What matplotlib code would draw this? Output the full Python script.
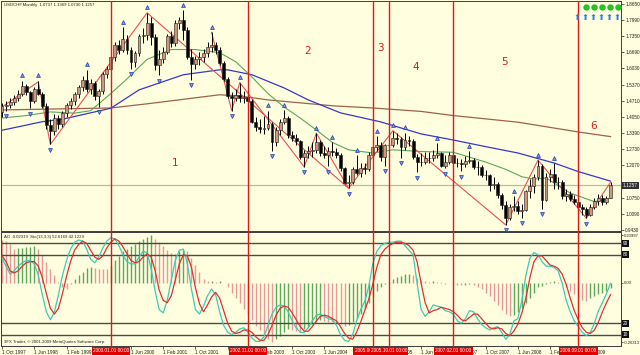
import matplotlib
matplotlib.use("Agg")
import matplotlib.pyplot as plt
import matplotlib.transforms as mtransforms
from matplotlib import font_manager
import numpy as np

# narrow font if present, the MT4 screenshot text is very condensed
installed = {f.name for f in font_manager.fontManager.ttflist}
if 'Liberation Sans Narrow' in installed:
    plt.rcParams['font.family'] = ['Liberation Sans Narrow', 'DejaVu Sans']
    FS, FS_HEAD, FS_IND = 4.0, 3.6, 3.5
else:
    plt.rcParams['font.family'] = ['Liberation Sans', 'DejaVu Sans']
    FS, FS_HEAD, FS_IND = 3.4, 3.1, 3.0

# --- monthly USDCHF candles, Oct 1997 .. May 2010 ---
open_ = [1.425, 1.448, 1.455, 1.466, 1.480, 1.500, 1.530, 1.505, 1.470, 1.520,
         1.500, 1.450, 1.370, 1.345, 1.400, 1.375, 1.420, 1.455, 1.470, 1.500,
         1.525, 1.555, 1.520, 1.545, 1.490, 1.510, 1.580, 1.600, 1.650, 1.700,
         1.680, 1.725, 1.680, 1.630, 1.665, 1.735, 1.740, 1.790, 1.730, 1.615,
         1.640, 1.670, 1.735, 1.705, 1.790, 1.800, 1.760, 1.650, 1.620, 1.640,
         1.650, 1.665, 1.690, 1.700, 1.680, 1.625, 1.560, 1.490, 1.480, 1.495,
         1.480, 1.485, 1.470, 1.385, 1.365, 1.355, 1.360, 1.375, 1.300, 1.350,
         1.385, 1.400, 1.330, 1.320, 1.305, 1.240, 1.255, 1.265, 1.270, 1.300,
         1.255, 1.250, 1.265, 1.260, 1.250, 1.195, 1.135, 1.140, 1.190, 1.175,
         1.195, 1.190, 1.250, 1.280, 1.290, 1.240, 1.290, 1.290, 1.318, 1.315,
         1.280, 1.310, 1.305, 1.240, 1.220, 1.222, 1.235, 1.238, 1.250, 1.255,
         1.205, 1.220, 1.250, 1.215, 1.215, 1.210, 1.225, 1.230, 1.200, 1.200,
         1.165, 1.165, 1.125, 1.130, 1.085, 1.045, 0.990, 1.035, 1.040, 1.020,
         1.025, 1.100, 1.120, 1.160, 1.205, 1.065, 1.160, 1.170, 1.140, 1.140,
         1.080, 1.088, 1.070, 1.058, 1.035, 1.030, 1.005, 1.035, 1.060, 1.075,
         1.055, 1.0737]
high = [1.462, 1.470, 1.482, 1.495, 1.515, 1.552, 1.538, 1.512, 1.528, 1.552,
        1.508, 1.462, 1.395, 1.415, 1.412, 1.430, 1.462, 1.480, 1.508, 1.535,
        1.570, 1.598, 1.560, 1.552, 1.520, 1.590, 1.612, 1.662, 1.712, 1.720,
        1.772, 1.740, 1.690, 1.675, 1.745, 1.768, 1.830, 1.812, 1.742, 1.680,
        1.690, 1.745, 1.755, 1.800, 1.815, 1.842, 1.772, 1.682, 1.655, 1.668,
        1.682, 1.712, 1.750, 1.712, 1.690, 1.635, 1.568, 1.505, 1.520, 1.545,
        1.512, 1.505, 1.478, 1.405, 1.395, 1.410, 1.430, 1.385, 1.362, 1.395,
        1.432, 1.410, 1.345, 1.335, 1.310, 1.268, 1.285, 1.300, 1.338, 1.312,
        1.285, 1.280, 1.302, 1.278, 1.258, 1.200, 1.168, 1.198, 1.248, 1.215,
        1.218, 1.260, 1.292, 1.326, 1.302, 1.295, 1.312, 1.348, 1.340, 1.322,
        1.340, 1.325, 1.315, 1.252, 1.255, 1.262, 1.262, 1.268, 1.296, 1.262,
        1.250, 1.262, 1.258, 1.238, 1.232, 1.245, 1.265, 1.238, 1.225, 1.208,
        1.188, 1.170, 1.158, 1.140, 1.095, 1.060, 1.050, 1.081, 1.060, 1.050,
        1.105, 1.150, 1.170, 1.228, 1.212, 1.175, 1.192, 1.215, 1.158, 1.148,
        1.110, 1.102, 1.085, 1.070, 1.050, 1.035, 1.048, 1.072, 1.088, 1.085,
        1.080, 1.1369]
low = [1.405, 1.430, 1.440, 1.452, 1.470, 1.490, 1.495, 1.440, 1.462, 1.495,
       1.440, 1.355, 1.292, 1.330, 1.355, 1.365, 1.405, 1.435, 1.455, 1.480,
       1.510, 1.505, 1.500, 1.475, 1.445, 1.500, 1.565, 1.585, 1.635, 1.660,
       1.670, 1.660, 1.600, 1.610, 1.655, 1.705, 1.720, 1.700, 1.598, 1.575,
       1.625, 1.660, 1.690, 1.695, 1.765, 1.720, 1.640, 1.555, 1.600, 1.618,
       1.628, 1.650, 1.670, 1.660, 1.615, 1.550, 1.480, 1.430, 1.470, 1.465,
       1.460, 1.455, 1.380, 1.345, 1.340, 1.335, 1.350, 1.265, 1.285, 1.330,
       1.375, 1.320, 1.305, 1.290, 1.232, 1.200, 1.235, 1.240, 1.258, 1.245,
       1.238, 1.202, 1.245, 1.235, 1.185, 1.130, 1.113, 1.132, 1.165, 1.160,
       1.170, 1.185, 1.240, 1.265, 1.225, 1.205, 1.270, 1.282, 1.295, 1.238,
       1.270, 1.285, 1.232, 1.178, 1.205, 1.210, 1.218, 1.225, 1.235, 1.200,
       1.195, 1.212, 1.205, 1.198, 1.182, 1.200, 1.215, 1.190, 1.168, 1.158,
       1.145, 1.100, 1.110, 1.075, 1.028, 0.963, 0.985, 1.018, 1.008, 0.992,
       1.020, 1.072, 1.095, 1.145, 1.030, 1.062, 1.140, 1.110, 1.110, 1.070,
       1.062, 1.060, 1.048, 1.025, 1.005, 0.990, 0.998, 1.028, 1.045, 1.045,
       1.050, 1.0730]
close = [1.448, 1.455, 1.466, 1.480, 1.500, 1.530, 1.505, 1.470, 1.520, 1.500,
         1.450, 1.370, 1.345, 1.400, 1.375, 1.420, 1.455, 1.470, 1.500, 1.525,
         1.555, 1.520, 1.545, 1.490, 1.510, 1.580, 1.600, 1.650, 1.700, 1.680,
         1.725, 1.680, 1.630, 1.665, 1.735, 1.740, 1.790, 1.730, 1.615, 1.640,
         1.670, 1.735, 1.705, 1.790, 1.800, 1.760, 1.650, 1.620, 1.640, 1.650,
         1.665, 1.690, 1.700, 1.680, 1.625, 1.560, 1.490, 1.480, 1.495, 1.480,
         1.485, 1.470, 1.385, 1.365, 1.355, 1.360, 1.375, 1.300, 1.350, 1.385,
         1.400, 1.330, 1.320, 1.305, 1.240, 1.255, 1.265, 1.270, 1.300, 1.255,
         1.250, 1.265, 1.260, 1.250, 1.195, 1.135, 1.140, 1.190, 1.175, 1.195,
         1.190, 1.250, 1.280, 1.290, 1.240, 1.290, 1.290, 1.318, 1.315, 1.280,
         1.310, 1.305, 1.240, 1.220, 1.222, 1.235, 1.238, 1.250, 1.255, 1.205,
         1.220, 1.250, 1.215, 1.215, 1.210, 1.225, 1.230, 1.200, 1.200, 1.165,
         1.165, 1.125, 1.130, 1.085, 1.045, 0.990, 1.035, 1.040, 1.020, 1.025,
         1.100, 1.120, 1.160, 1.205, 1.065, 1.160, 1.170, 1.140, 1.140, 1.080,
         1.088, 1.070, 1.058, 1.035, 1.030, 1.005, 1.035, 1.060, 1.075, 1.055,
         1.073, 1.1257]
last_price = 1.1257

# moving averages (vertices: bar index, price)
ma_green_x = [0, 6, 12, 18, 22, 27, 31, 36, 42, 48, 54, 58, 62, 66, 70, 74, 78, 82, 86,
              92, 97, 104, 112, 120, 125, 129, 132, 135, 141, 147, 151]
ma_green_y = [1.40, 1.41, 1.425, 1.42, 1.43, 1.50, 1.56, 1.64, 1.68, 1.68, 1.667, 1.63,
              1.568, 1.50, 1.445, 1.40, 1.351, 1.30, 1.27, 1.257, 1.27, 1.263, 1.26,
              1.22, 1.19, 1.16, 1.15, 1.155, 1.093, 1.058, 1.073]
ma_blue_x = [0, 10, 15, 27, 34, 45, 54, 56, 62, 70, 76, 84, 94, 104, 112, 120, 128,
             137, 143, 151]
ma_blue_y = [1.35, 1.385, 1.395, 1.44, 1.515, 1.577, 1.597, 1.597, 1.577, 1.523, 1.474,
             1.421, 1.384, 1.335, 1.31, 1.283, 1.257, 1.216, 1.181, 1.142]
ma_brown_x = [0, 27, 37, 54, 59, 66, 82, 92, 104, 112, 128, 143, 151]
ma_brown_y = [1.433, 1.441, 1.46, 1.495, 1.49, 1.474, 1.45, 1.441, 1.427, 1.41, 1.383,
              1.343, 1.324]

# zigzag swing points (bar index, price)
zz_big_x = [0, 9, 12, 36, 86, 97, 125, 133, 145, 151]
zz_big_y = [1.445, 1.548, 1.292, 1.830, 1.113, 1.348, 0.963, 1.228, 0.990, 1.1369]
zz_small_x = [52, 57, 59, 75, 78, 86]
zz_small_y = [1.750, 1.430, 1.545, 1.200, 1.338, 1.113]

# Bill Williams fractals
fractal_up = [5, 9, 21, 30, 36, 45, 52, 59, 66, 70, 78, 82, 88, 93, 97, 100, 108, 116,
              127, 133, 137]
fractal_dn = [1, 7, 12, 24, 32, 39, 47, 57, 67, 75, 81, 86, 95, 99, 103, 110, 114, 125,
              129, 134, 145]

# Awesome Oscillator
ao = [0.190, 0.182, 0.170, 0.150, 0.152, 0.155, 0.156, 0.158, 0.160, 0.150,
      0.122, 0.093, 0.060, 0.033, 0.002, -0.018, -0.026, -0.005, 0.014, 0.034,
      0.045, 0.063, 0.068, 0.066, 0.062, 0.061, 0.060, 0.075, 0.100, 0.120,
      0.138, 0.150, 0.160, 0.170, 0.182, 0.192, 0.202, 0.210, 0.195, 0.180,
      0.160, 0.145, 0.130, 0.128, 0.138, 0.145, 0.140, 0.110, 0.080, 0.045,
      0.015, 0.006, 0.008, 0.005, 0.008, -0.003, -0.020, -0.045, -0.070, -0.090,
      -0.115, -0.140, -0.165, -0.190, -0.210, -0.230, -0.250, -0.263, -0.250, -0.236,
      -0.220, -0.205, -0.208, -0.212, -0.215, -0.205, -0.195, -0.185, -0.172, -0.165,
      -0.168, -0.172, -0.176, -0.178, -0.182, -0.190, -0.188, -0.175, -0.160, -0.140,
      -0.115, -0.090, -0.060, -0.035, -0.020, -0.008, 0.005, 0.015, 0.025, 0.030,
      0.038, 0.040, 0.035, 0.020, 0.012, 0.006, 0.004, 0.006, 0.005, 0.002,
      -0.004, -0.003, -0.006, -0.010, -0.012, -0.010, -0.008, -0.012, -0.020, -0.030,
      -0.045, -0.060, -0.080, -0.100, -0.120, -0.140, -0.148, -0.145, -0.130, -0.110,
      -0.090, -0.070, -0.045, -0.020, -0.015, -0.008, 0.004, 0.006, 0.002, -0.010,
      -0.020, -0.035, -0.050, -0.065, -0.075, -0.080, -0.070, -0.060, -0.050, -0.045,
      -0.035, -0.023]

# Stochastic(13,3,3): %K (main) and %D (signal)
stoch_k = [77, 70, 63, 66, 70, 73, 75, 75, 72, 62, 45, 30, 23, 30, 45, 62, 75, 85, 91, 93,
           92, 85, 76, 73, 78, 86, 92, 95, 94, 88, 80, 74, 72, 72, 78, 83, 82, 68, 48, 32,
           29, 40, 58, 75, 84, 85, 72, 50, 32, 28, 35, 44, 50, 45, 30, 18, 12, 10, 12, 15,
           16, 12, 7, 4, 4, 8, 18, 28, 34, 36, 35, 30, 22, 16, 12, 12, 16, 22, 27, 28,
           26, 24, 23, 18, 10, 5, 4, 10, 22, 32, 39, 52, 72, 83, 88, 90, 91, 91, 92, 92,
           88, 84, 80, 55, 32, 26, 30, 36, 35, 34, 31, 30, 28, 22, 20, 24, 31, 30, 24, 19,
           16, 14, 16, 17, 12, 6, 10, 22, 24, 40, 62, 77, 82, 80, 74, 70, 70, 69, 66, 55,
           40, 30, 22, 17, 12, 9, 12, 20, 31, 38, 46, 55]
stoch_d = [79, 74, 66, 64, 66, 70, 73, 74, 74, 70, 60, 46, 33, 28, 33, 46, 61, 74, 84, 89,
           92, 90, 84, 78, 76, 79, 86, 91, 94, 92, 87, 81, 75, 73, 74, 78, 81, 78, 66, 49,
           40, 38, 44, 58, 72, 80, 79, 69, 51, 37, 30, 36, 43, 47, 42, 31, 20, 13, 11, 12,
           14, 14, 12, 8, 5, 5, 10, 18, 27, 33, 35, 34, 29, 23, 17, 13, 13, 17, 22, 26,
           27, 26, 24, 22, 17, 11, 7, 6, 12, 21, 31, 41, 54, 69, 80, 85, 88, 90, 91, 91,
           90, 88, 84, 74, 55, 38, 29, 31, 32, 34, 33, 32, 30, 27, 23, 22, 25, 28, 28, 24,
           20, 16, 15, 16, 15, 11, 9, 13, 19, 29, 42, 60, 74, 79, 79, 75, 71, 70, 68, 63,
           54, 42, 31, 23, 16, 12, 11, 14, 21, 30, 38, 45]
stoch_levels = [90, 80, 20, 10]

# vertical marker lines
vline_idx = [27, 61, 92, 96, 112, 143]
vline_labels = ["2000.01.01 00:00", "2002.11.01 00:00", "2005.06.01 00:00",
                "2005.10.01 00:00", "2007.02.01 00:00", "2009.09.01 00:00"]
wave_labels = ["1", "2", "3", "4", "5", "6"]
wave_x = [42.9, 75.7, 93.8, 102.7, 124.8, 146.9]
wave_y = [1.216, 1.675, 1.687, 1.609, 1.630, 1.368]

# axis labels
price_ticks = [1.8650, 1.7990, 1.7350, 1.6690, 1.6030, 1.5370, 1.4710, 1.4050, 1.3390,
               1.2730, 1.2070, 1.0750, 1.0090, 0.9430]
date_tick_idx = list(range(0, 152, 8))
date_tick_labels = ["1 Oct 1997", "1 Jun 1998", "1 Feb 1999", "1 Oct 1999", "1 Jun 2000",
                    "1 Feb 2001", "1 Oct 2001", "1 Jun 2002", "1 Feb 2003", "1 Oct 2003",
                    "1 Jun 2004", "1 Feb 2005", "1 Oct 2005", "1 Jun 2006", "1 Feb 2007",
                    "1 Oct 2007", "1 Jun 2008", "1 Feb 2009", "1 Oct 2009"]

BG = '#FFFFE0'
RED = '#E01818'

o = np.array(open_)
h = np.array(high)
l = np.array(low)
c = np.array(close)
idx = np.arange(len(c))

fig = plt.figure(figsize=(6.4, 3.55), dpi=100, facecolor=BG)
ax = fig.add_axes([0.0016, 0.349, 0.9687, 0.6494], facecolor=BG)
axi = fig.add_axes([0.0016, 0.0254, 0.9687, 0.3211], facecolor=BG)
xlim = (-0.25, 153.6)

# ---- price panel ----
ax.axhline(last_price, color='#B8B8B0', lw=0.9, zorder=1)
ax.plot(ma_brown_x, ma_brown_y, color='#A0604A', lw=0.9, zorder=2)
ax.plot(ma_blue_x, ma_blue_y, color='#3838C8', lw=0.9, zorder=2)
ax.plot(ma_green_x, ma_green_y, color='#58A858', lw=0.8, zorder=2)
ax.plot(zz_big_x, zz_big_y, color='#E85050', lw=0.8, zorder=2.5)
ax.plot(zz_small_x, zz_small_y, color='#E85050', lw=0.8, zorder=2.5)

bull = c >= o
ax.vlines(idx, l, h, color='#000000', lw=0.7, zorder=3)
ax.bar(idx, np.abs(c - o), bottom=np.minimum(o, c), width=0.72,
       color=np.where(bull, '#D09878', '#000000'), edgecolor='#1A1A1A',
       linewidth=0.4, zorder=4)

ax.plot(fractal_up, h[fractal_up] + 0.022, ls='none', marker='^', ms=2.8,
        mfc='#8098E8', mec='#2038B0', mew=0.5, zorder=5)
ax.plot(fractal_dn, l[fractal_dn] - 0.022, ls='none', marker='v', ms=2.8,
        mfc='#8098E8', mec='#2038B0', mew=0.5, zorder=5)

for lab, x, y in zip(wave_labels, wave_x, wave_y):
    ax.text(x, y, lab, color=RED, fontsize=7.5, ha='center', va='center', zorder=6,
            family='DejaVu Sans')

# signal markers top right
for k in range(5):
    ax.plot((585 + 8 * k) / 620, 0.974, 'o', color='#22C322', ms=3.6,
            transform=ax.transAxes, clip_on=False, zorder=6)
for k in range(6):
    ax.text((576 + 8 * k) / 620, 0.928, '\u2b06', color='#1E7FFF', fontsize=6,
            ha='center', va='center', transform=ax.transAxes, zorder=6,
            family='DejaVu Sans')

ax.text(0.004, 0.988, 'USDCHF,Monthly  1.0737 1.1369 1.0730 1.1257', transform=ax.transAxes,
        fontsize=FS_HEAD, ha='left', va='top', color='#202020')

ax.set_xlim(*xlim)
ax.set_ylim(0.9376, 1.8802)
ax.set_xticks([])
ax.yaxis.tick_right()
ax.set_yticks(price_ticks)
ax.set_yticklabels(['%.4f' % p for p in price_ticks])
ax.tick_params(axis='y', labelsize=FS, length=2, pad=1, width=0.5, colors='#202020')

trans_p = mtransforms.blended_transform_factory(ax.transAxes, ax.transData)
ax.text(1.003, last_price, '%.4f' % last_price, transform=trans_p, fontsize=FS,
        color='white', ha='left', va='center', zorder=7,
        bbox=dict(boxstyle='square,pad=0.2', fc='#303030', ec='none'))

# ---- indicator panel ----
ao_col = ['#E89898' if i == 0 or ao[i] < ao[i - 1] else '#5AA85A' for i in idx]
axi.vlines(idx, 0, ao, colors=ao_col, lw=1.0, zorder=2)
axi.set_xlim(*xlim)
axi.set_ylim(-0.280, 0.224)

axs = axi.twinx()
axs.set_ylim(0, 100)
axs.set_yticks([])

# twinx moves the host ticks to the left, so put them back on the right
axi.yaxis.tick_right()
axi.set_yticks([0.20997, 0.0, -0.26313])
axi.set_yticklabels(['0.20997', '0.00', '-0.26313'])
axi.tick_params(axis='y', labelsize=FS_IND, length=1.5, pad=0.5, width=0.5,
                colors='#202020')
axi.set_xticks(date_tick_idx)
axi.set_xticklabels(date_tick_labels)
axi.tick_params(axis='x', labelsize=FS, length=2, pad=1, width=0.5, colors='#202020')
for t in axi.get_xticklabels():
    t.set_ha('left')

for lvl in stoch_levels:
    axs.axhline(lvl, color='#4A4A4A', lw=1.0, zorder=1)
    axs.text(1.003, lvl, str(lvl), transform=mtransforms.blended_transform_factory(
        axs.transAxes, axs.transData), fontsize=FS, color='white', ha='left',
        va='center', bbox=dict(boxstyle='square,pad=0.2', fc='#101010', ec='none'))
axs.plot(idx, stoch_k, color='#40C8B8', lw=0.9, zorder=3)
axs.plot(idx, stoch_d, color='#E03030', lw=0.9, zorder=3)

axi.text(0.004, 0.975, 'AO -0.02319  Sto(13,3,3) 52.6169 42.1229', transform=axi.transAxes,
         fontsize=FS_HEAD, ha='left', va='top', color='#202020', zorder=6)
axi.text(0.004, 0.02, '3FX Trader, \u00a9 2001-2009 MetaQuotes Software Corp.',
         transform=axi.transAxes, fontsize=FS_HEAD, ha='left', va='bottom',
         color='#202020', zorder=6)

# ---- vertical marker lines with date boxes ----
for pos, lab in zip(vline_idx, vline_labels):
    ax.axvline(pos, color=RED, lw=1.0, zorder=5)
    axs.axvline(pos, ymin=-0.04, ymax=1.0, color=RED, lw=1.0, zorder=5, clip_on=False)
    axs.annotate(lab, xy=(pos, 0), xycoords=('data', 'axes fraction'),
                 xytext=(0, -5), textcoords='offset pixels', ha='center', va='center',
                 fontsize=FS, color='white', annotation_clip=False, zorder=8,
                 bbox=dict(boxstyle='square,pad=0.25', fc='#E00000', ec='none'))

for a in (ax, axi, axs):
    for sp in a.spines.values():
        sp.set_color('#404040')
        sp.set_linewidth(0.7)

fig.savefig('out.png', dpi=100, facecolor=BG)
